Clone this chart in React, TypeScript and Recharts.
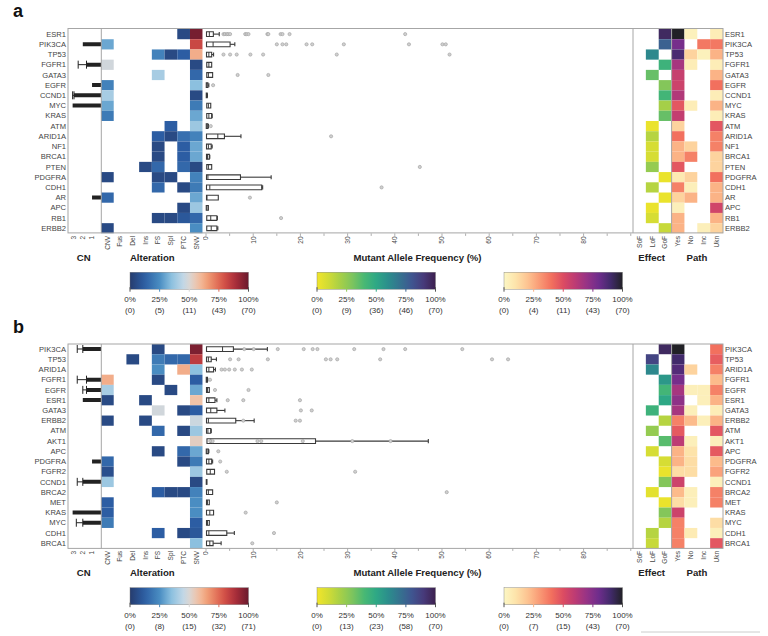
import React from 'react'
import {
  BarChart, Bar, XAxis, YAxis, ErrorBar, ScatterChart, Scatter, ReferenceArea, ReferenceLine,
} from 'recharts'

const FONT = '"Liberation Sans", Arial, Helvetica, sans-serif'
const _ = null

// ---------- data ----------
const genesA = ['ESR1', 'PIK3CA', 'TP53', 'FGFR1', 'GATA3', 'EGFR', 'CCND1', 'MYC', 'KRAS', 'ATM',
  'ARID1A', 'NF1', 'BRCA1', 'PTEN', 'PDGFRA', 'CDH1', 'AR', 'APC', 'RB1', 'ERBB2']
const genesB = ['PIK3CA', 'TP53', 'ARID1A', 'FGFR1', 'EGFR', 'ESR1', 'GATA3', 'ERBB2', 'ATM', 'AKT1',
  'APC', 'PDGFRA', 'FGFR2', 'CCND1', 'BRCA2', 'MET', 'KRAS', 'MYC', 'CDH1', 'BRCA1']

const cnTicks = [1, 2, 3]
const altCols = ['CNV', 'Fus', 'Del', 'Ins', 'FS', 'Spl', 'PTC', 'SNV']
const effPathCols = ['SoF', 'LoF', 'GoF', 'Yes', 'No', 'Inc', 'Ukn']
const mafTicks = [0, 5, 10, 15, 20, 25, 30, 35, 40, 45, 50, 55, 60, 65, 70, 75, 80, 85, 90]
const mafLabelMax = 80

// copy number bars and their upper whiskers
const cnA = [_, 2.0, _, 1.6, _, 1.0, 2.95, 3.1, _, _, _, _, _, _, _, _, 1.0, _, _, _]
const cnErrA = [_, _, _, 0.9, _, _, 0.15, _, _, _, _, _, _, _, _, _, _, _, _, _]
const cnB = [2.0, _, _, 1.6, 1.6, 2.0, _, _, _, _, _, 1.0, _, 2.0, _, _, 3.1, 2.0, _, _]
const cnErrB = [0.6, _, _, 1.0, 0.4, _, _, _, _, _, _, _, _, 0.6, _, _, _, 0.7, _, _]

// alteration share per gene (CNV, Fus, Del, Ins, FS, Spl, PTC, SNV)
const altA = [
  [_, _, _, _, _, _, 0.05, 0.98],
  [0.3, _, _, _, _, _, _, 0.82],
  [_, _, _, _, 0.22, 0.05, 0.12, 0.62],
  [0.48, _, _, _, _, _, _, 0.05],
  [_, _, _, _, 0.4, _, _, 0.15],
  [0.22, _, _, _, _, _, _, 0.35],
  [0.4, _, _, _, _, _, _, 0.05],
  [0.3, _, _, _, _, _, _, 0.2],
  [0.2, _, _, _, _, _, _, 0.3],
  [_, _, _, _, _, 0.12, _, 0.38],
  [_, _, _, _, 0.12, 0.05, 0.17, 0.22],
  [_, _, _, _, 0.05, _, 0.12, 0.3],
  [_, _, _, _, 0.05, _, 0.12, 0.3],
  [_, _, _, 0.05, 0.15, _, 0.15, 0.05],
  [0.05, _, _, _, 0.05, 0.05, _, 0.22],
  [_, _, _, _, 0.15, _, 0.05, 0.2],
  [0.15, _, _, _, _, _, _, 0.3],
  [_, _, _, _, _, _, 0.05, 0.38],
  [_, _, _, _, 0.05, 0.05, 0.1, 0.15],
  [0.05, _, _, _, _, _, _, 0.25],
]
const altB = [
  [_, _, _, _, 0.05, _, _, 0.97],
  [_, _, 0.05, _, 0.2, 0.15, 0.15, 0.85],
  [_, _, _, _, 0.25, _, 0.62, 0.35],
  [0.62, _, _, _, 0.05, _, _, 0.12],
  [0.4, _, _, _, _, 0.05, _, 0.3],
  [0.05, _, _, 0.05, _, _, _, 0.57],
  [_, _, _, _, 0.48, _, 0.05, 0.12],
  [0.05, _, _, 0.05, _, _, _, 0.47],
  [_, _, _, _, 0.15, _, 0.05, 0.38],
  [_, _, _, _, _, _, _, 0.53],
  [_, _, _, _, 0.05, _, 0.15, 0.3],
  [0.15, _, _, _, _, _, 0.05, 0.2],
  [0.07, _, _, _, _, _, _, 0.38],
  [0.38, _, _, _, _, _, _, 0.05],
  [_, _, _, _, 0.12, 0.05, 0.05, 0.22],
  [0.12, _, _, _, _, _, _, 0.25],
  [0.12, _, _, _, _, _, _, 0.25],
  [0.2, _, _, _, _, _, _, 0.12],
  [_, _, _, _, 0.12, _, 0.05, 0.1],
  [_, _, _, _, _, _, _, 0.35],
]

// effect (SoF, LoF, GoF) then pathogenicity (Yes, No, Inc, Ukn)
const effA = [
  [_, _, 0.96], [_, _, 0.76], [_, 0.62, _], [_, _, 0.44], [_, 0.34, _],
  [_, _, 0.28], [_, _, 0.42], [_, _, 0.2], [_, _, 0.34], [_, 0.02, _],
  [_, 0.16, _], [_, 0.08, _], [_, 0.08, _], [_, 0.24, _], [_, _, 0.02],
  [_, 0.16, _], [_, _, 0.02], [_, 0.02, _], [_, 0.08, _], [_, _, 0.12],
]
const pathA = [
  [1.0, 0.03, _, 0.05], [0.78, _, 0.38, 0.38], [0.88, 0.15, 0.03, 0.24], [0.66, 0.05, _, 0.05],
  [0.57, _, _, 0.24], [0.55, _, _, 0.4], [0.63, _, _, 0.05], [0.47, 0.05, _, 0.24],
  [0.58, _, _, 0.05], [0.15, _, _, 0.47], [0.4, _, _, 0.36], [0.24, 0.15, _, 0.36],
  [0.24, 0.36, _, 0.15], [0.47, _, _, 0.15], [0.07, 0.15, _, 0.4], [0.36, 0.04, _, 0.24],
  [0.15, 0.24, _, 0.24], [0.04, _, _, 0.54], [0.24, _, _, 0.24], [0.24, _, 0.04, 0.15],
]
const effB = [
  [_, _, 0.96], [_, 0.86, _], [_, 0.62, _], [_, _, 0.56], [_, _, 0.42],
  [_, _, 0.5], [_, 0.44, _], [_, _, 0.16], [_, 0.24, _], [_, _, 0.37],
  [_, 0.08, _], [_, _, 0.08], [_, _, 0.02], [_, _, 0.28], [_, 0.04, _],
  [_, _, 0.02], [_, _, 0.28], [_, _, 0.16], [_, 0.16, _], [_, 0.12, _],
]
const pathB = [
  [1.0, _, _, 0.4], [0.9, _, _, 0.45], [0.86, 0.15, _, 0.36], [0.78, _, _, 0.22],
  [0.66, 0.04, 0.04, 0.36], [0.72, _, 0.04, 0.24], [0.66, 0.04, _, 0.05], [0.36, 0.22, 0.04, 0.24],
  [0.46, _, _, 0.47], [0.6, 0.04, _, 0.04], [0.24, 0.1, _, 0.46], [0.24, 0.12, _, 0.22],
  [0.12, 0.12, _, 0.28], [0.55, _, _, 0.04], [0.22, 0.04, _, 0.36], [0.12, 0.04, _, 0.36],
  [0.55, _, _, _], [0.36, _, _, 0.12], [0.36, 0.06, _, 0.04], [0.36, _, _, 0.47],
]

// mutant allele frequency boxes: q1, median, q3, upper whisker; outliers per gene
const q1A = [0.1, 0.1, 0.1, 0.15, 0.15, 0.05, 0.05, 0.15, 0.15, 0.05, 0.1, 0.1, 0.1, 0.15, 0.1, 0.1, 0.1, 0.05, 0.15, 0.15]
const medA = [0.7, 1.5, 0.6, 0.6, 0.5, 0.2, 0.15, 0.5, 0.6, 0.2, 2.5, 0.5, 0.3, 0.5, 0.4, 0.8, 0.2, 0.2, 1.0, 1.1]
const q3A = [1.55, 5.1, 1.2, 1.2, 1.4, 0.4, 0.25, 1.0, 1.2, 0.4, 3.9, 1.1, 0.7, 1.2, 7.3, 11.8, 2.6, 0.5, 2.3, 2.3]
const hiA = [2.8, 6.1, 1.6, 1.2, 1.4, 0.6, 0.3, 1.0, 1.3, 0.5, 7.4, 1.3, 0.8, 1.2, 13.8, 12.0, 2.6, 0.5, 2.4, 2.5]
const outA = [
  [3.7, 4.0, 4.4, 4.7, 5.1, 8.3, 8.6, 9.0, 13.0, 13.2, 15.8, 16.2, 17.7, 42.2],
  [15.0, 16.2, 17.0, 21.3, 22.5, 29.2, 43.0, 50.1, 50.8],
  [3.7, 5.1, 6.5, 9.4, 12.1, 27.7, 51.6],
  [], [6.7, 13.2], [1.5], [], [], [], [1.0],
  [26.5], [], [], [45.3], [], [37.2], [9.3], [], [15.9], [],
]
const q1B = [0.1, 0.1, 0.1, 0.05, 0.1, 0.1, 0.1, 0.1, 0.1, 0.2, 0.05, 0.1, 0.15, 0.05, 0.1, 0.1, 0.1, 0.1, 0.1, 0.1]
const medB = [3.5, 0.5, 0.6, 0.15, 0.3, 0.6, 1.0, 0.5, 0.4, 1.0, 0.2, 0.6, 0.9, 0.1, 0.5, 0.3, 0.8, 0.3, 0.6, 0.8]
const q3B = [5.8, 1.1, 1.6, 0.3, 0.7, 1.9, 2.3, 6.3, 1.0, 23.2, 0.5, 1.2, 1.8, 0.2, 1.4, 0.7, 1.6, 0.7, 4.4, 1.5]
const hiB = [13.0, 2.2, 2.0, 0.35, 0.7, 2.3, 4.0, 10.2, 1.1, 47.1, 0.6, 1.4, 1.8, 0.2, 1.4, 0.7, 1.6, 0.7, 6.0, 3.2]
const outB = [
  [8.1, 10.1, 15.2, 20.7, 22.6, 23.6, 31.4, 37.6, 42.2, 54.3],
  [5.1, 6.9, 13.1, 25.4, 26.4, 27.8, 36.9, 60.6, 64.0],
  [3.3, 4.0, 4.9, 6.1, 7.6, 9.7],
  [0.85], [1.9, 9.0], [4.6, 7.9, 19.9], [20.1, 22.4], [7.9, 19.0, 19.9], [],
  [0.9, 1.4, 10.9, 11.7, 20.5, 31.0, 39.1],
  [2.6], [3.0], [4.4, 31.6], [], [51.0], [15.0], [8.4], [], [14.4], [9.8],
]

// colour bar labels
const cbarPct = ['0%', '25%', '50%', '75%', '100%']
const cbarCountsA = [[0, 5, 11, 43, 70], [0, 9, 36, 46, 70], [0, 4, 11, 43, 70]]
const cbarCountsB = [[0, 8, 15, 32, 71], [0, 13, 23, 58, 70], [0, 7, 15, 43, 70]]

// ---------- colour maps ----------
type Cmap = (t: number) => string
function makeCmap(stops: [number, string][]): Cmap {
  const rgb = stops.map(([t, h]) => [t, parseInt(h.slice(1, 3), 16), parseInt(h.slice(3, 5), 16), parseInt(h.slice(5, 7), 16)])
  return (t: number) => {
    const v = Math.max(0, Math.min(1, t))
    let i = 1
    while (i < rgb.length - 1 && v > rgb[i][0]) i++
    const a = rgb[i - 1], b = rgb[i]
    const f = (v - a[0]) / (b[0] - a[0] || 1)
    const c = [1, 2, 3].map(k => Math.round(a[k] + (b[k] - a[k]) * f))
    return `rgb(${c[0]},${c[1]},${c[2]})`
  }
}
const altCmap = makeCmap([[0, '#263c6e'], [0.12, '#2c5da3'], [0.25, '#4a8dc2'], [0.35, '#8cc0df'], [0.45, '#c2d7e6'],
  [0.5, '#d9d6d4'], [0.58, '#f3c0a2'], [0.66, '#f09a72'], [0.78, '#d9584a'], [0.88, '#b0303b'], [1, '#6a1a2e']])
const effCmap = makeCmap([[0, '#f1e52a'], [0.1, '#cfdb36'], [0.2, '#a5cf48'], [0.3, '#7cc45e'], [0.4, '#48b874'],
  [0.5, '#2ea885'], [0.6, '#2b8e8c'], [0.7, '#35728f'], [0.8, '#3f5590'], [0.9, '#473a7a'], [1, '#3c1f4e']])
const pathCmap = makeCmap([[0, '#fcf7c4'], [0.1, '#fde3aa'], [0.2, '#fdc391'], [0.3, '#f99a75'], [0.4, '#f2705e'],
  [0.5, '#dc4c62'], [0.6, '#bd3b74'], [0.7, '#963386'], [0.8, '#6e2d8c'], [0.9, '#412a6a'], [1, '#212126']])

// ---------- layout ----------
const ROWS_H = 204.4
const AX_H = 24
const X_FRAME = 68
const X_CN = 101.3
const X_MAF = 203
const X_EFF = 633
const X_PATH = 671.6
const X_RIGHT = 723
const GRID = '#a6a6a6'
const INK = '#3a3a3a'

const RotTick = (props: any) => {
  const { x, y, payload, labels } = props
  const label = labels ? labels[payload.value] : payload.value
  return (
    <text x={x} y={y + 2.5} dy={2.3} transform={`rotate(-90 ${x} ${y + 2.5})`} textAnchor="end"
      fontSize={6.6} fill="#444" fontFamily={FONT}>{label}</text>
  )
}

const MafTick = (props: any) => {
  const { x, y, payload } = props
  const v = payload.value
  const major = v % 10 === 0 && v <= mafLabelMax
  return (
    <g>
      <line x1={x} x2={x} y1={y} y2={y + 2.5} stroke="#999" strokeWidth={0.8} />
      {major && (
        <text x={x} y={y + 3} dy={2.3} transform={`rotate(-90 ${x} ${y + 3})`} textAnchor="end"
          fontSize={6.6} fill="#444" fontFamily={FONT}>{v}</text>
      )}
    </g>
  )
}

const GeneTick = (props: any) => {
  const { x, y, payload, anchor, names } = props
  const label = names ? names[payload.value] : payload.value
  return (
    <text x={x} y={y} dy={2.6} textAnchor={anchor} fontSize={7.6} fill="#444" fontFamily={FONT}>{label}</text>
  )
}

const cellShape = (w: number, h: number, color: (d: any) => string) => (p: any) => (
  <rect x={p.cx - w / 2} y={p.cy - h / 2} width={w} height={h} fill={color(p.payload)} />
)

const dotShape = (p: any) => (
  <circle cx={p.cx} cy={p.cy} r={1.6} fill="#d0d0d0" stroke="#9c9c9c" strokeWidth={0.6} />
)

const toCells = (m: (number | null)[][]) =>
  m.flatMap((row, r) => row.map((v, c) => ({ r, c, v }))).filter(d => d.v != null)

type PanelProps = {
  top: number
  genes: string[]
  cn: (number | null)[]
  cnErr: (number | null)[]
  alt: (number | null)[][]
  eff: (number | null)[][]
  path: (number | null)[][]
  q1: number[]
  med: number[]
  q3: number[]
  hi: number[]
  out: number[][]
}

function Panel({ top, genes, cn, cnErr, alt, eff, path, q1, med, q3, hi, out }: PanelProps) {
  const H = ROWS_H + AX_H
  const rowIdx = genes.map((_g, i) => i)
  const cnData = genes.map((g, i) => ({ gene: g, cn: cn[i], err: cnErr[i] ? [0, cnErr[i]] : null }))
  const altCells = toCells(alt)
  const epCells = toCells(eff.map((row, i) => [...row, ...path[i]]))
  const outliers = out.flatMap((vals, r) => vals.map(v => ({ r, v })))
  const altW = (X_MAF - X_CN) / altCols.length
  const epW = (X_RIGHT - X_EFF) / effPathCols.length
  const cellH = ROWS_H / genes.length
  const m = { top: 0, right: 0, bottom: 0, left: 0 }

  return (
    <>
      <div style={{ position: 'absolute', left: 0, top }}>
        <BarChart width={X_CN} height={H} data={cnData} layout="vertical" margin={m} barCategoryGap={0}>
          <XAxis type="number" domain={[0, 3.6]} reversed ticks={cnTicks} interval={0} allowDataOverflow height={AX_H}
            tickSize={0} tickMargin={0} axisLine={false} tickLine={false} tick={<RotTick />} />
          <YAxis type="category" dataKey="gene" width={X_FRAME} interval={0} tickSize={0} tickMargin={2}
            axisLine={false} tickLine={false} tick={<GeneTick anchor="end" />} />
          <Bar dataKey="cn" fill="#222" barSize={4} isAnimationActive={false}>
            <ErrorBar dataKey="err" direction="x" width={4} stroke="#222" strokeWidth={1} />
          </Bar>
        </BarChart>
      </div>

      <div style={{ position: 'absolute', left: X_CN, top }}>
        <ScatterChart width={X_MAF - X_CN} height={H} margin={m}>
          <XAxis type="number" dataKey="c" domain={[-0.5, altCols.length - 0.5]} ticks={altCols.map((_c, i) => i)}
            interval={0} allowDataOverflow height={AX_H} tickSize={0} tickMargin={0} axisLine={false} tickLine={false}
            tick={<RotTick labels={altCols} />} />
          <YAxis type="number" dataKey="r" domain={[-0.5, genes.length - 0.5]} reversed allowDataOverflow hide />
          <Scatter data={altCells} isAnimationActive={false}
            shape={cellShape(altW, cellH, d => altCmap(d.v))} />
        </ScatterChart>
      </div>

      <div style={{ position: 'absolute', left: X_MAF, top }}>
        <ScatterChart width={X_EFF - X_MAF} height={H} margin={m}>
          <XAxis type="number" dataKey="v" domain={[-0.64, 90.47]} ticks={mafTicks} interval={0} allowDataOverflow
            height={AX_H} tickSize={0} tickMargin={0} axisLine={false} tickLine={false} tick={<MafTick />} />
          <YAxis type="number" dataKey="r" domain={[-0.5, genes.length - 0.5]} reversed allowDataOverflow hide />
          {rowIdx.map(i => (
            <ReferenceLine key={`w${i}`} segment={[{ x: q3[i], y: i }, { x: hi[i], y: i }]}
              stroke={INK} strokeWidth={1.1} ifOverflow="visible" />
          ))}
          {rowIdx.filter(i => hi[i] > q3[i]).map(i => (
            <ReferenceLine key={`c${i}`} segment={[{ x: hi[i], y: i - 0.2 }, { x: hi[i], y: i + 0.2 }]}
              stroke={INK} strokeWidth={1.1} ifOverflow="visible" />
          ))}
          {rowIdx.map(i => (
            <ReferenceArea key={`b${i}`} x1={q1[i]} x2={q3[i]} y1={i - 0.23} y2={i + 0.23}
              fill="#fff" fillOpacity={1} stroke={INK} strokeWidth={1.1} ifOverflow="visible" />
          ))}
          {rowIdx.map(i => (
            <ReferenceLine key={`m${i}`} segment={[{ x: med[i], y: i - 0.23 }, { x: med[i], y: i + 0.23 }]}
              stroke={INK} strokeWidth={1} ifOverflow="visible" />
          ))}
          <Scatter data={outliers} isAnimationActive={false} shape={dotShape} />
        </ScatterChart>
      </div>

      <div style={{ position: 'absolute', left: X_EFF, top }}>
        <ScatterChart width={X_RIGHT - X_EFF + 45} height={H} margin={m}>
          <XAxis type="number" dataKey="c" domain={[-0.5, effPathCols.length - 0.5]}
            ticks={effPathCols.map((_c, i) => i)} interval={0} allowDataOverflow height={AX_H} tickSize={0} tickMargin={0}
            axisLine={false} tickLine={false} tick={<RotTick labels={effPathCols} />} />
          <YAxis type="number" dataKey="r" orientation="right" domain={[-0.5, genes.length - 0.5]} reversed
            allowDataOverflow ticks={rowIdx} interval={0} width={45} tickSize={0} tickMargin={2}
            axisLine={false} tickLine={false} tick={<GeneTick anchor="start" names={genes} />} />
          <Scatter data={epCells} isAnimationActive={false}
            shape={cellShape(epW, cellH, d => (d.c < 3 ? effCmap(d.v) : pathCmap(d.v)))} />
        </ScatterChart>
      </div>
    </>
  )
}

function Frame({ top }: { top: number }) {
  const b = top + ROWS_H
  return (
    <g stroke={GRID} strokeWidth={1} fill="none">
      <rect x={X_FRAME} y={top} width={X_RIGHT - X_FRAME} height={ROWS_H} />
      <line x1={X_CN} x2={X_CN} y1={top} y2={b} />
      <line x1={X_EFF} x2={X_EFF} y1={top} y2={b} />
      <line x1={X_PATH} x2={X_PATH} y1={top} y2={b} />
    </g>
  )
}

function Titles({ top }: { top: number }) {
  const y = top + 232.3
  const st = { fontSize: 9.6, fontWeight: 700, fill: '#222', fontFamily: FONT }
  return (
    <g>
      <text x={83.7} y={y} textAnchor="middle" {...st}>CN</text>
      <text x={152.3} y={y} textAnchor="middle" {...st}>Alteration</text>
      <text x={417.5} y={y} textAnchor="middle" {...st}>Mutant Allele Frequency (%)</text>
      <text x={651.7} y={y} textAnchor="middle" {...st}>Effect</text>
      <text x={697} y={y} textAnchor="middle" {...st}>Path</text>
    </g>
  )
}

const barXs = [130, 317, 504]
const cmaps = [altCmap, effCmap, pathCmap]

function ColorBars({ top, counts, id }: { top: number; counts: number[][]; id: string }) {
  const y = top + 243.7
  const w = 118.5
  const h = 17
  const steps = Array.from({ length: 21 }, (_v, k) => k / 20)
  const pos = [0, 0.25, 0.5, 0.75, 1]
  return (
    <g fontFamily={FONT}>
      <defs>
        {cmaps.map((cm, k) => (
          <linearGradient key={k} id={`${id}g${k}`} x1="0" x2="1" y1="0" y2="0">
            {steps.map(t => <stop key={t} offset={`${t * 100}%`} stopColor={cm(t)} />)}
          </linearGradient>
        ))}
      </defs>
      {barXs.map((x0, k) => (
        <g key={k}>
          <rect x={x0} y={y} width={w} height={h} fill={`url(#${id}g${k})`} stroke="#777" strokeWidth={0.4} />
          {pos.map((p, j) => (
            <g key={j}>
              <line x1={x0 + p * w} x2={x0 + p * w} y1={y + h - 2} y2={y + h + 2.5}
                stroke={j === 0 || j === 4 ? '#555' : cmaps[k](p)} strokeWidth={1} />
              <text x={x0 + p * w} y={y + 30} textAnchor="middle" fontSize={8} fill="#333">{cbarPct[j]}</text>
              <text x={x0 + p * w} y={y + 41} textAnchor="middle" fontSize={8} fill="#333">({counts[k][j]})</text>
            </g>
          ))}
        </g>
      ))}
    </g>
  )
}

const TOP_A = 28.5
const TOP_B = 344

export default function App() {
  return (
    <div style={{ position: 'absolute', left: 0, top: 0, width: 768, height: 636, background: '#fff', overflow: 'hidden', fontFamily: FONT }}>
      <Panel top={TOP_A} genes={genesA} cn={cnA} cnErr={cnErrA} alt={altA} eff={effA} path={pathA}
        q1={q1A} med={medA} q3={q3A} hi={hiA} out={outA} />
      <Panel top={TOP_B} genes={genesB} cn={cnB} cnErr={cnErrB} alt={altB} eff={effB} path={pathB}
        q1={q1B} med={medB} q3={q3B} hi={hiB} out={outB} />
      <svg width={768} height={636} style={{ position: 'absolute', left: 0, top: 0, pointerEvents: 'none' }}>
        <text x={13} y={17} fontSize={18} fontWeight={700} fill="#111" fontFamily={FONT}>a</text>
        <text x={13} y={333} fontSize={18} fontWeight={700} fill="#111" fontFamily={FONT}>b</text>
        <Frame top={TOP_A} />
        <Frame top={TOP_B} />
        <Titles top={TOP_A} />
        <Titles top={TOP_B} />
        <ColorBars top={TOP_A} counts={cbarCountsA} id="a" />
        <ColorBars top={TOP_B} counts={cbarCountsB} id="b" />
        <line x1={641} x2={760} y1={632} y2={632} stroke="#ccc" strokeWidth={1} />
      </svg>
    </div>
  )
}
